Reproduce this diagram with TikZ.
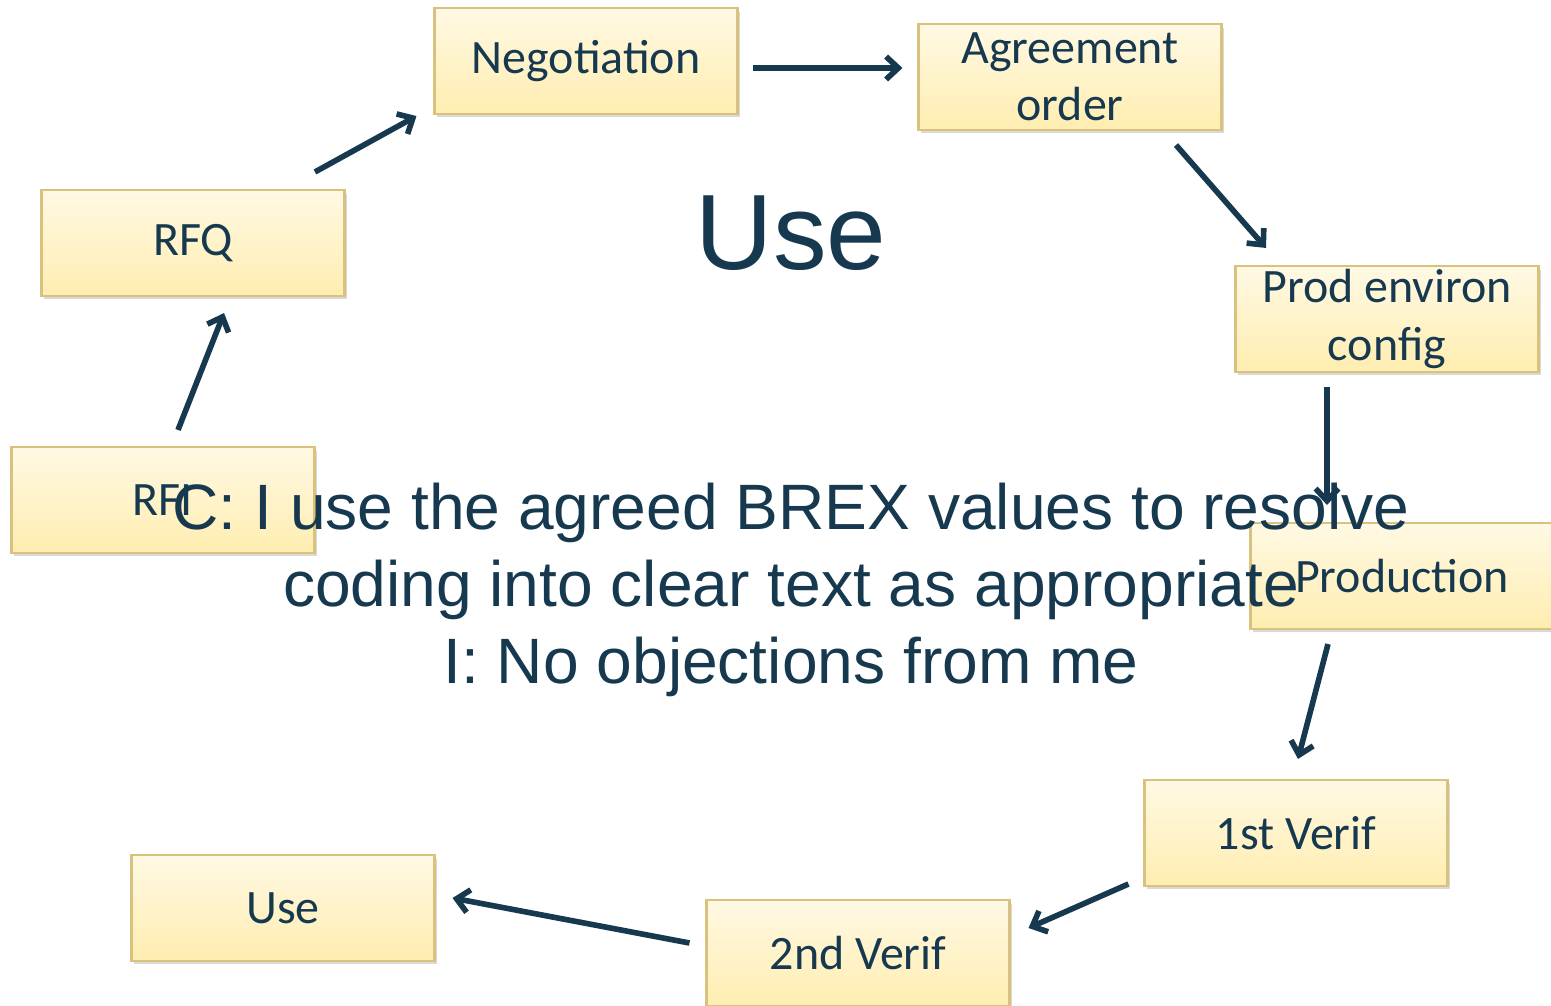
\documentclass[tikz,border=0pt]{standalone}
\usepackage{fontspec}
\setmainfont{Carlito}
\newfontfamily\arialfont{Liberation Sans}
\usepackage{xcolor}
\usepackage{tikz}
\usetikzlibrary{arrows.meta, shadows}

\definecolor{navy}{HTML}{17394F}
\definecolor{boxtop}{HTML}{FFF9E4}
\definecolor{boxbot}{HTML}{FFEDB0}
\definecolor{boxline}{HTML}{D8C27E}

\tikzset{
	stagebox/.style={draw=boxline, line width=1.2pt, top color=boxtop, bottom color=boxbot,
		minimum width=6.06cm, minimum height=2.12cm, inner sep=0pt, align=center, text=navy,
		font=\fontsize{27.3}{32.5}\selectfont,
		drop shadow={shadow xshift=0.05cm, shadow yshift=-0.07cm, opacity=0.3}},
	flow/.style={draw=navy, line width=3.2pt, -{Straight Barb[length=7pt, width=13pt]}},
}

\begin{document}
\begin{tikzpicture}[x=0.02cm, y=-0.02cm]
			\useasboundingbox (0,0) rectangle (1551,1006);
			% Stages of the cycle:
			\node[stagebox] (neg) at (586, 61) {Negotiation};
			\node[stagebox] (agr) at (1070, 77) {Agreement\\order};
			\node[stagebox] (rfq) at (193, 243) {RFQ};
			\node[stagebox] (prod) at (1387, 319) {Prod environ\\config};
			\node[stagebox] (rfi) at (163, 500) {RFI};
			\node[stagebox] (production) at (1402, 576) {Production};
			\node[stagebox] (ver1) at (1296, 833) {1st Verif};
			\node[stagebox] (ver2) at (858, 953) {2nd Verif};
			\node[stagebox] (use) at (283, 908) {Use};
			% Arrows between stages:
			\draw[flow] ([shift={(14,7)}]neg.east) -- ([shift={(-15,-9)}]agr.west);
			\draw[flow] ([shift={(106,14)}]agr.south) -- ([shift={(-121,-17)}]prod.north);
			\draw[flow] ([shift={(-60,14)}]prod.south) -- ([shift={(-75,-17)}]production.north);
			\draw[flow] ([shift={(-74,14)}]production.south) -- ([shift={(2,-20)}]ver1.north);
			\draw[flow] ([shift={(-15,51)}]ver1.west) -- ([shift={(18,-25)}]ver2.east);
			\draw[flow] ([shift={(-16,-10)}]ver2.west) -- ([shift={(17,-10)}]use.east);
			\draw[flow] ([shift={(15,-16)}]rfi.north) -- ([shift={(31,16)}]rfq.south);
			\draw[flow] ([shift={(122,-17)}]rfq.north) -- ([shift={(-17,1)}]neg.south west);
			% Title and comment text:
			\node[text=navy, font=\arialfont\fontsize{61}{61}\selectfont, anchor=base] (title) at (791, 270) {Use};
			\node[text=navy, align=center, font=\arialfont\fontsize{36.5}{43.7}\selectfont] (note) at (791, 590)
				{C: I use the agreed BREX values to resolve\\coding into clear text as appropriate\\I: No objections from me};
		\end{tikzpicture}
\end{document}
